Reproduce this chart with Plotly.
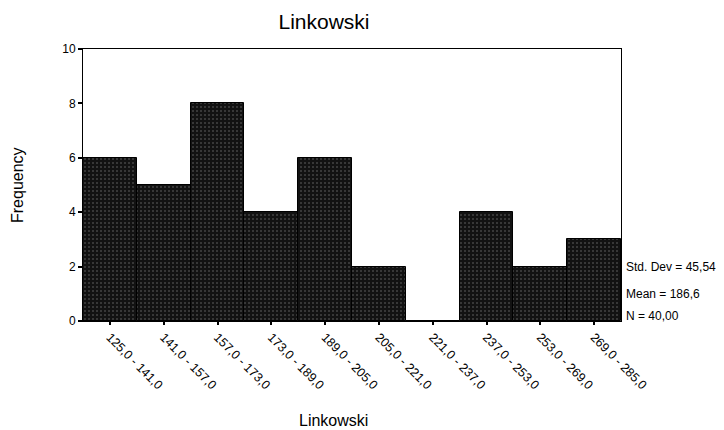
import plotly.graph_objects as go

bin_low = [125, 141, 157, 173, 189, 205, 221, 237, 253, 269]
bin_high = [141, 157, 173, 189, 205, 221, 237, 253, 269, 285]
counts = [6, 5, 8, 4, 6, 2, 0, 4, 2, 3]
tick_labels = ["125,0 - 141,0", "141,0 - 157,0", "157,0 - 173,0", "173,0 - 189,0",
               "189,0 - 205,0", "205,0 - 221,0", "221,0 - 237,0", "237,0 - 253,0",
               "253,0 - 269,0", "269,0 - 285,0"]
stats_lines = ["Std. Dev = 45,54", "Mean = 186,6", "N = 40,00"]

centers = [(a + b) / 2 for a, b in zip(bin_low, bin_high)]
widths = [b - a for a, b in zip(bin_low, bin_high)]

fig = go.Figure()
fig.add_trace(go.Bar(
    x=centers, y=counts, width=widths,
    marker=dict(color="#121212", line=dict(color="black", width=1),
                pattern=dict(shape=".", fgcolor="#8a8a8a", fgopacity=0.4, size=4, solidity=0.2)),
    showlegend=False,
))

# page body has an 8px default margin, so the figure is offset by 8px
W, H = 716, 422
font = "Liberation Sans, Arial, sans-serif"
fig.update_layout(
    width=W, height=H,
    margin=dict(l=75, r=103, t=41, b=109),
    paper_bgcolor="white", plot_bgcolor="white",
    font=dict(family=font, color="black", size=12),
    title=dict(text="Linkowski", x=316 / W, xanchor="center", y=1 - 14 / H, yanchor="middle",
               font=dict(size=21, family=font)),
    bargap=0,
    xaxis=dict(range=[bin_low[0], bin_high[-1]], tickvals=centers, ticktext=tick_labels,
               tickangle=45, ticks="outside", ticklen=3, tickwidth=2, tickcolor="black",
               showline=True, linecolor="black", linewidth=1, mirror=True,
               showgrid=False, zeroline=False, automargin=False,
               tickfont=dict(size=12.5)),
    yaxis=dict(range=[0, 10], tickvals=[0, 2, 4, 6, 8, 10], ticks="outside", ticklen=4,
               tickwidth=2, tickcolor="black",
               showline=True, linecolor="black", linewidth=1, mirror=True,
               showgrid=False, zeroline=False, automargin=False,
               tickfont=dict(size=12)),
)

fig.add_annotation(text="Linkowski", xref="paper", yref="paper", x=0.465, y=0, yanchor="middle",
                   yshift=-99, showarrow=False, font=dict(size=16))
fig.add_annotation(text="Frequency", xref="paper", yref="paper", x=0, y=0.5, xanchor="center",
                   xshift=-66, textangle=-90, showarrow=False, font=dict(size=16))

ys = [2.0, 1.0, 0.18]
for txt, yv in zip(stats_lines, ys):
    fig.add_annotation(text=txt, xref="paper", yref="y", x=1.0, y=yv, xanchor="left",
                       xshift=3, yanchor="middle", showarrow=False, font=dict(size=12))

fig.write_html("out.html")
